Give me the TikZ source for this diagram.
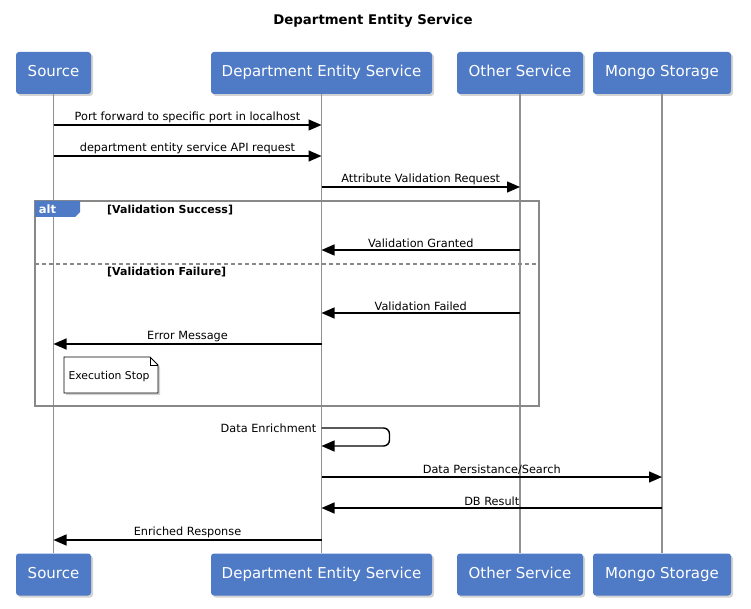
\documentclass[tikz,border=0pt]{standalone}
\usepackage{fontspec}
\setmainfont{DejaVu Sans}
\usetikzlibrary{arrows.meta,shadows}
\definecolor{boxblue}{RGB}{79,122,197}
\definecolor{lifegray}{RGB}{145,145,145}
\definecolor{framegray}{RGB}{136,136,136}

\begin{document}
\begin{tikzpicture}[x=1pt,y=-1pt,
        actor/.style={fill=boxblue,rounded corners=3pt,text=white,font=\fontsize{15}{18}\selectfont,minimum height=42,inner sep=0pt,text height=11pt,text depth=3pt,drop shadow={shadow xshift=2pt,shadow yshift=-2pt,opacity=0.35}},
        life/.style={lifegray,line width=1.4pt},
        msg/.style={-{Triangle[length=13pt,width=11pt]},line width=1.4pt},
        lbl/.style={font=\fontsize{11.3}{13}\selectfont,inner sep=1.5pt},
        guard/.style={font=\bfseries\fontsize{11}{13}\selectfont,anchor=west,inner sep=0pt}]
        \useasboundingbox(0,0)rectangle(751,609);
        \node[font=\bfseries\fontsize{13.3}{16}\selectfont](title)at(373,21){Department Entity Service};

        \node[actor,minimum width=75](srcT)at(53.5,73){Source};
        \node[actor,minimum width=221](desT)at(321.5,73){Department Entity Service};
        \node[actor,minimum width=126](othT)at(520,73){Other Service};
        \node[actor,minimum width=138](monT)at(662,73){Mongo Storage};
        \node[actor,minimum width=75](srcB)at(53.5,574.5){Source};
        \node[actor,minimum width=221](desB)at(321.5,574.5){Department Entity Service};
        \node[actor,minimum width=126](othB)at(520,574.5){Other Service};
        \node[actor,minimum width=138](monB)at(662,574.5){Mongo Storage};

        \draw[life](srcT)--(srcB);
        \draw[life](desT)--(desB);
        \draw[life](othT)--(othB);
        \draw[life](monT)--(monB);

        \coordinate(r1)at(0,125);
        \coordinate(r2)at(0,156);
        \coordinate(r3)at(0,187);
        \coordinate(r4)at(0,250);
        \coordinate(r5)at(0,313);
        \coordinate(r6)at(0,344);
        \coordinate(r7)at(0,428);
        \coordinate(r7b)at(0,446);
        \coordinate(r8)at(0,477);
        \coordinate(r9)at(0,508);
        \coordinate(r10)at(0,540);

        \draw[framegray,line width=1.3pt](35,201)rectangle(539,406);
        \draw[framegray,line width=1.1pt,dash pattern=on 4pt off 3pt](35,264)--(539,264);
        \fill[boxblue](35,201)--(80,201)--(80,212)--(75,217)--(35,217)--cycle;
        \node[text=white,font=\bfseries\fontsize{11.5}{13}\selectfont](alt)at(47.5,209){alt};
        \node[guard](g1)at(107,210){[Validation Success]};
        \node[guard](g2)at(107,272.5){[Validation Failure]};

        \draw[msg](srcT|-r1)--(desT|-r1)node[lbl,midway,above](l1){Port forward to specific port in localhost};
        \draw[msg](srcT|-r2)--(desT|-r2)node[lbl,midway,above](l2){department entity service API request};
        \draw[msg](desT|-r3)--(othT|-r3)node[lbl,midway,above](l3){Attribute Validation Request};
        \draw[msg](othT|-r4)--(desT|-r4)node[lbl,midway,above](l4){Validation Granted};
        \draw[msg](othT|-r5)--(desT|-r5)node[lbl,midway,above](l5){Validation Failed};
        \draw[msg](desT|-r6)--(srcT|-r6)node[lbl,midway,above](l6){Error Message};

        \draw[fill=white,line width=0.8pt,drop shadow={shadow xshift=2pt,shadow yshift=-2pt,opacity=0.35}](64,357)--(150,357)--(158,365)--(158,393)--(64,393)--cycle;
        \draw[line width=0.8pt](150,357)--(150,365)--(158,365);
        \node[font=\fontsize{10.8}{13}\selectfont](stop)at(109,376.5){Execution Stop};

        \draw[msg,rounded corners=6pt](desT|-r7)node[lbl,left=3pt](l7){Data Enrichment}--++(68,0)|-(desT|-r7b);
        \draw[msg](desT|-r8)--(monT|-r8)node[lbl,midway,above](l8){Data Persistance/Search};
        \draw[msg](monT|-r9)--(desT|-r9)node[lbl,midway,above](l9){DB Result};
        \draw[msg](desT|-r10)--(srcT|-r10)node[lbl,midway,above](l10){Enriched Response};
    \end{tikzpicture}
\end{document}
